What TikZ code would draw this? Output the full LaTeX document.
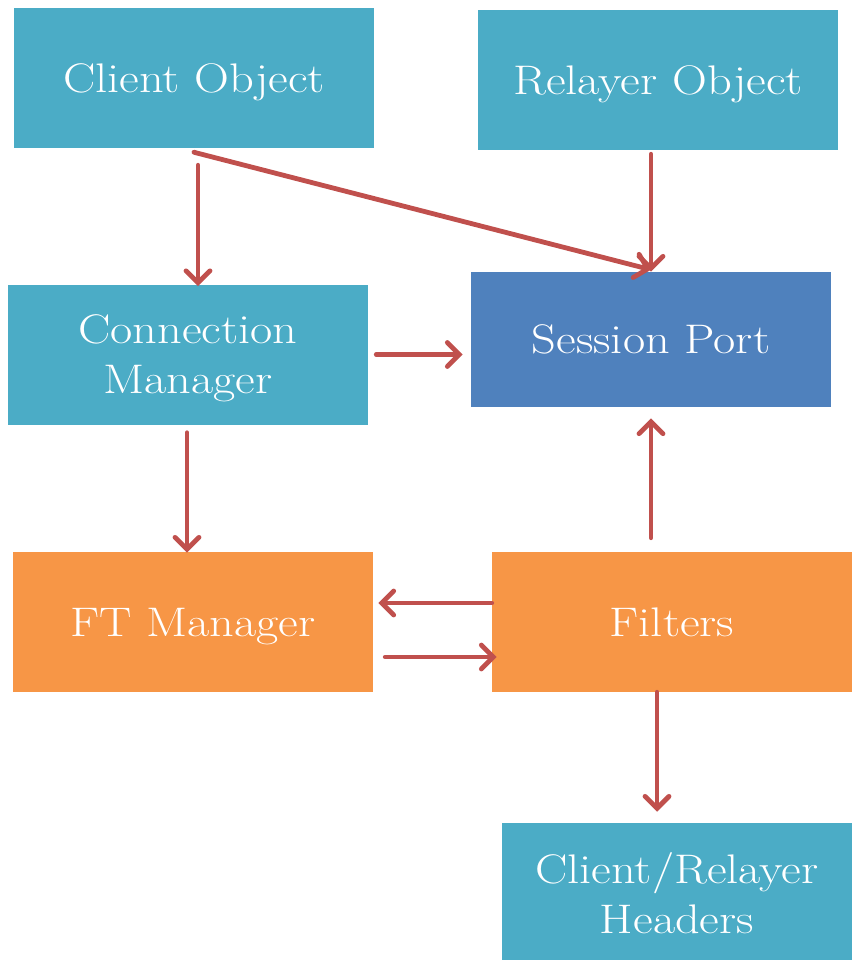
\documentclass[tikz,border=0pt]{standalone}
\usepackage{fontspec}
\setmainfont{Latin Modern Roman}[FakeStretch=1.17]
\usetikzlibrary{arrows.meta}
\definecolor{teal}{HTML}{4BACC6}
\definecolor{port}{HTML}{4F81BD}
\definecolor{ft}{HTML}{F79646}
\definecolor{arrowred}{HTML}{C0504D}
\begin{document}
\begin{tikzpicture}[x=0.75pt, y=-0.75pt,
        b/.style={rectangle, fill=teal, text=white, minimum width=270pt, minimum height=105pt,
            align=center, inner sep=0pt, text depth=0pt, font=\fontsize{31}{37.5}\selectfont},
        arr/.style={draw=arrowred, line width=3.6pt, line cap=round,
            -{Straight Barb[length=9pt, width=18pt, line cap=round]}}]
        \useasboundingbox (0, 0) rectangle (853, 960);

        \node[b] (client) at (194, 78) {Client Object};
        \node[b] (relayer) at (658, 80) {Relayer Object};
        \node[b] (conn) at (188, 354.5) {Connection\\Manager};
        \node[b, fill=port, minimum height=101.25pt] (port) at (651, 339.5) {Session Port};
        \node[b, fill=ft] (ftm) at (193, 622) {FT Manager};
        \node[b, fill=ft] (filters) at (672, 622) {Filters};
        \node[b, minimum width=262.5pt] (headers) at (677, 893) {Client/Relayer\\Headers};

        \draw[arr] ([shift={(4,17)}]client.south) -- ([shift={(4,2)}]client.south |- conn.north);
        \draw[arr] ([shift={(0,4)}]client.south) -- ([shift={(0,-2)}]port.north);
        \draw[arr] ([shift={(0,4)}]relayer.south -| port.north) -- ([shift={(0,0)}]port.north);
        \draw[arr] ([shift={(8,0)}]conn.east) -- ([shift={(-8,0)}]conn.east -| port.west);
        \draw[arr] ([shift={(-1,8)}]conn.south) -- ([shift={(-1,1)}]conn.south |- ftm.north);
        \draw[arr] ([shift={(0,-14)}]filters.north -| port.south) -- ([shift={(0,11)}]port.south);
        \draw[arr] ([shift={(0,-19)}]filters.west) -- ([shift={(5,-19)}]ftm.east);
        \draw[arr] ([shift={(12,35)}]ftm.east) -- ([shift={(5,35)}]filters.west);
        \draw[arr] ([shift={(-15,0)}]filters.south) -- ([shift={(-15,-11)}]filters.south |- headers.north);
    \end{tikzpicture}
\end{document}
